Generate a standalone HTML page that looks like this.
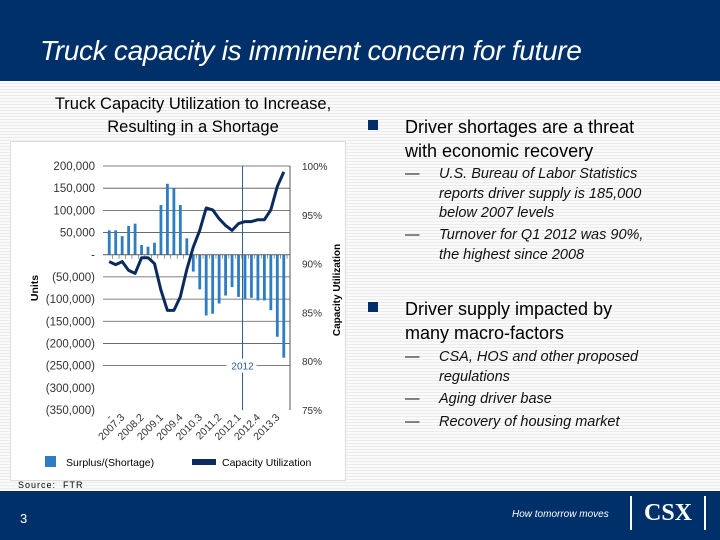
<!DOCTYPE html>
<html><head><meta charset="utf-8"><style>
body{margin:0;width:720px;height:540px;position:relative;overflow:hidden;font-family:"Liberation Sans",sans-serif;background:repeating-linear-gradient(#fafafa 0 2px,#ececec 2px 3px);}
.abs{position:absolute;}
.b{color:#000;font-size:18px;}
.s{font-size:14.5px;font-style:italic;color:#111;}
</style></head><body>
<div class="abs" style="left:0;top:0;width:720px;height:81px;background:#00306a"></div>
<div class="abs" style="left:40px;top:35px;color:#fff;font-size:28px;font-style:italic;letter-spacing:-0.3px">Truck capacity is imminent concern for future</div>
<div class="abs" style="left:18px;top:93px;width:350px;text-align:center;font-size:16.5px;line-height:23px;color:#000">Truck Capacity Utilization to Increase,<br>Resulting in a Shortage</div>
<div class="abs" style="left:10px;top:141px;width:334px;height:338px;background:#fff;border:1px solid #ddd"></div>
<svg class="abs" style="left:0;top:0" width="720" height="540" id="chart"></svg>
<div class="abs" style="left:18px;top:480px;font-size:9px;letter-spacing:1px">Source:&nbsp; FTR</div>

<div class="abs" style="left:368px;top:115px;width:340px">
 <div class="abs" style="left:0;top:5px;width:10px;height:10px;background:#00306a"></div>
 <div class="abs b" style="left:37px;top:0;line-height:24px;width:262px">Driver shortages are a threat with economic recovery</div>
</div>
<div class="abs s" style="left:405px;top:165px;width:262px;line-height:19.5px"><span class="abs" style="left:0">—</span><div style="margin-left:34px">U.S. Bureau of Labor Statistics reports driver supply is 185,000 below 2007 levels</div></div>
<div class="abs s" style="left:405px;top:226px;width:262px;line-height:19.5px"><span class="abs" style="left:0">—</span><div style="margin-left:34px">Turnover for Q1 2012 was 90%, the highest since 2008</div></div>
<div class="abs" style="left:368px;top:297px;width:340px">
 <div class="abs" style="left:0;top:5px;width:10px;height:10px;background:#00306a"></div>
 <div class="abs b" style="left:37px;top:0;line-height:24px;width:245px">Driver supply impacted by many macro-factors</div>
</div>
<div class="abs s" style="left:405px;top:348px;width:270px;line-height:19.5px"><span class="abs" style="left:0">—</span><div style="margin-left:34px">CSA, HOS and other proposed regulations</div></div>
<div class="abs s" style="left:405px;top:390px;width:270px;line-height:19.5px"><span class="abs" style="left:0">—</span><div style="margin-left:34px">Aging driver base</div></div>
<div class="abs s" style="left:405px;top:413px;width:270px;line-height:19.5px"><span class="abs" style="left:0">—</span><div style="margin-left:34px">Recovery of housing market</div></div>

<div class="abs" style="left:0;top:491px;width:720px;height:49px;background:#00306a"></div>
<div class="abs" style="left:20px;top:511px;color:#fff;font-size:13px">3</div>
<div class="abs" style="left:512px;top:509px;color:#fff;font-size:10px;font-style:italic">How tomorrow moves</div>
<div class="abs" style="left:630px;top:496px;width:72px;height:34px;border-left:2px solid #fff;border-right:2px solid #fff;color:#fff;font-weight:bold;font-size:24px;text-align:center;line-height:34px;font-family:'Liberation Serif',serif">CSX</div>

<script>
const categories=["2007.1","2007.2","2007.3","2007.4","2008.1","2008.2","2008.3","2008.4","2009.1","2009.2","2009.3","2009.4","2010.1","2010.2","2010.3","2010.4","2011.1","2011.2","2011.3","2011.4","2012.1","2012.2","2012.3","2012.4","2013.1","2013.2","2013.3","2013.4"];
const surplus=[55000,55000,42000,65000,70000,22000,18000,27000,112000,160000,150000,112000,37000,-38000,-78000,-137000,-133000,-110000,-92000,-73000,-95000,-100000,-97000,-103000,-103000,-125000,-185000,-232000];
const utilization=[90.2,89.9,90.2,89.3,89.0,90.6,90.6,90.0,87.3,85.2,85.2,86.6,89.4,91.7,93.4,95.7,95.5,94.6,93.9,93.4,94.1,94.3,94.3,94.5,94.5,95.5,97.9,99.4];
const leftTicks=[200000,150000,100000,50000,0,-50000,-100000,-150000,-200000,-250000,-300000,-350000];
const rightTicks=[100,95,90,85,80,75];
const xLabelIdx=[0,2,5,8,11,14,17,20,23,26];

const svg=document.getElementById('chart');const NS='http://www.w3.org/2000/svg';
function mk(t,a,p){const e=document.createElementNS(NS,t);for(const k in a)e.setAttribute(k,a[k]);(p||svg).appendChild(e);return e;}
const X0=105,X1=290,Y0=166,Y1=410;
const yL=v=>Y0+(200000-v)/550000*(Y1-Y0);
const yR=v=>Y0+(100-v)/25*(Y1-Y0);
const step=(X1-X0-4)/categories.length;
const xC=i=>X0+3+step*(i+0.5)-2;
function fmt(v){if(v===0)return '-';const s=Math.abs(v).toLocaleString('en-US');return v<0?'('+s+')':s;}
leftTicks.forEach(v=>{const y=yL(v);
 if(v>=-250000){const g=mk('line',{x1:X0-2,x2:X1,y1:y,y2:y,stroke:'#555','stroke-width':0.8});}
 const t=mk('text',{x:95,y:y+4,'text-anchor':'end','font-size':11.5,fill:'#333'});t.textContent=fmt(v);
 });
rightTicks.forEach(v=>{const t=mk('text',{x:302,y:yR(v)+4,'font-size':10,fill:'#333'});t.textContent=v+'%';
 });
const ax=mk('line',{x1:X1,x2:X1,y1:Y0,y2:Y1,stroke:'#555','stroke-width':1});
const vx=xC(categories.indexOf('2012.1'))+4;
const vl=mk('line',{x1:vx,x2:vx,y1:Y0,y2:Y1,stroke:'#2a5d8f','stroke-width':1});
const vr=mk('rect',{x:vx-16,y:yL(-250000)-7,width:30,height:14,fill:'#fff'});
const vt=mk('text',{x:vx,y:yL(-250000)+4,'text-anchor':'middle','font-size':10,fill:'#2a5d8f'});vt.textContent='2012';
surplus.forEach((v,i)=>{const y=yL(v),z=yL(0);const r=mk('rect',{x:xC(i)-1.4,y:Math.min(y,z),width:2.8,height:Math.abs(z-y),fill:'#2e7cc4'});
 });
const zl=mk('line',{x1:X0-2,x2:X1,y1:yL(0),y2:yL(0),stroke:'#555','stroke-width':0.8});
categories.forEach((c,i)=>{const t=mk('line',{x1:xC(i)+3.3,x2:xC(i)+3.3,y1:yL(0),y2:yL(0)+4,stroke:'#555','stroke-width':0.6});});
let d='';utilization.forEach((v,i)=>{d+=(i?'L':'M')+xC(i).toFixed(1)+' '+yR(v).toFixed(1);});
const ln=mk('path',{d:d,fill:'none',stroke:'#0b2a5e','stroke-width':3,'stroke-linejoin':'round'});
xLabelIdx.forEach(i=>{const x=xC(i)+3,y=418;const t=mk('text',{x:x,y:y,'text-anchor':'end','font-size':10.5,fill:'#333',transform:`rotate(-45 ${x} ${y})`});t.textContent=i===0?'-':categories[i];
 });
const ul=mk('text',{x:38,y:288,'font-size':10.5,'font-weight':'bold',transform:'rotate(-90 38 288)','text-anchor':'middle'});ul.textContent='Units';
const cu=mk('text',{x:340,y:290,'font-size':10,'font-weight':'bold',transform:'rotate(-90 340 290)','text-anchor':'middle'});cu.textContent='Capacity Utilization';
const l1=mk('rect',{x:45,y:456,width:11,height:11,fill:'#2e7cc4'});
const l1t=mk('text',{x:66,y:466,'font-size':10.5});l1t.textContent='Surplus/(Shortage)';
const l2=mk('rect',{x:192,y:459,width:24,height:6,fill:'#0b2a5e'});
const l2t=mk('text',{x:222,y:466,'font-size':10.5});l2t.textContent='Capacity Utilization';
</script>
</body></html>
